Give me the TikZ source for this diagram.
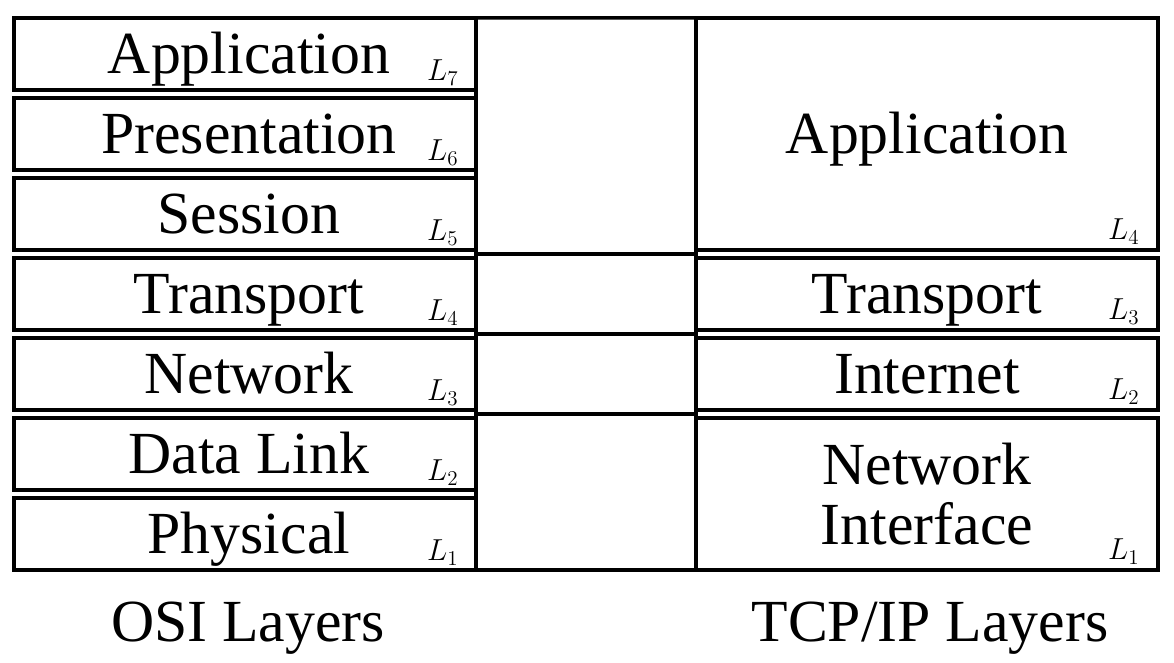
\RequirePackage{fix-cm}
\documentclass[tikz,border=0pt]{standalone}
\usepackage{fontspec}
\setmainfont{Liberation Serif}
\usetikzlibrary{calc}

\tikzset{
  rule/.style={line width=2pt},
  box/.style={draw, rule, minimum width=9.24cm, inner sep=0pt, outer sep=0pt, align=center,
    font=\fontsize{34}{34}\selectfont},
  layer/.style={box, minimum height=1.44cm, text height=0.8cm, text depth=0pt},
  idx/.style={anchor=base east, inner sep=0pt, font=\fontsize{17.28}{20}\selectfont},
  caption/.style={anchor=base, font=\fontsize{34}{40}\selectfont}
}

\begin{document}
\begin{tikzpicture}
  \useasboundingbox (0,0) rectangle (23.48,13.26);
  % OSI stack
  \foreach \n/\t [count=\i] in {7/Application,6/Presentation,5/Session,4/Transport,3/Network,2/Data Link,1/Physical}
    \node[layer] (osi\n) at (4.9,13.78-1.6*\i) {\hspace{0.16cm}\t};
  \foreach \n in {1,...,7}
    \node[idx] (losi\n) at ($(osi\n.south east)+(-0.34,0.18)$) {$L_\n$};
  % TCP/IP stack
  \node[box, minimum height=4.64cm, text height=0.8cm, text depth=0pt] (tcp4) at (18.54,10.58) {Application};
  \node[layer] (tcp3) at (18.54,7.38) {Transport};
  \node[layer] (tcp2) at (18.54,5.78) {Internet};
  \node[box, minimum height=3.04cm] (tcp1) at (18.54,3.38) {Network\\Interface};
  \foreach \n in {1,...,4}
    \node[idx] (ltcp\n) at ($(tcp\n.south east)+(-0.36,0.2)$) {$L_\n$};
  % middle column
  \coordinate (g1) at ($(osi5.south east)!.5!(osi4.north east)$);
  \coordinate (g2) at ($(osi4.south east)!.5!(osi3.north east)$);
  \coordinate (g3) at ($(osi3.south east)!.5!(osi2.north east)$);
  \draw[rule] (osi7.north east) -- (osi1.south east);
  \draw[rule] (tcp4.north west) -- (tcp1.south west);
  \draw[rule] (osi7.north east) -- (tcp4.north west);
  \draw[rule] (g1) -- (g1 -| tcp3.west);
  \draw[rule] (g2) -- (g2 -| tcp3.west);
  \draw[rule] (g3) -- (g3 -| tcp3.west);
  \draw[rule] (osi1.south east) -- (tcp1.south west);
  % captions
  \node[caption] (osicap) at (4.96,0.42) {OSI Layers};
  \node[caption] (tcpcap) at (18.6,0.42) {TCP/IP Layers};
\end{tikzpicture}
\end{document}
